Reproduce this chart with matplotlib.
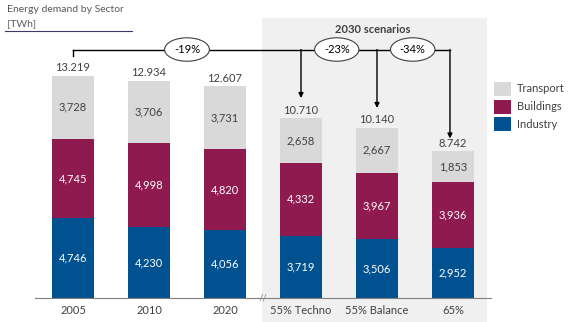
import numpy as np
import matplotlib.pyplot as plt
from matplotlib.patches import Rectangle
from matplotlib.lines import Line2D

plt.rcParams['font.family'] = ['Lato', 'DejaVu Sans']

# data (TWh)
categories = ['2005', '2010', '2020', '55% Techno', '55% Balance', '65%']
industry = [4746, 4230, 4056, 3719, 3506, 2952]
buildings = [4745, 4998, 4820, 4332, 3967, 3936]
transport = [3728, 3706, 3731, 2658, 2667, 1853]
total_labels = ['13.219', '12.934', '12.607', '10.710', '10.140', '8.742']
changes = ['-19%', '-23%', '-34%']

c_ind = '#00518f'
c_bld = '#8f1a50'
c_tra = '#d9d9d9'
txt = '#404040'

W, H = 570, 322
fig = plt.figure(figsize=(W / 100, H / 100), dpi=100)

# grey background for 2030 scenarios
fig.add_artist(Rectangle((262 / W, 0), (487 - 262) / W, 1 - 18 / H,
                         transform=fig.transFigure, fc='#f0f0f0', ec='none', zorder=-1))

ax = fig.add_axes([35 / W, 24 / H, 456 / W, 298 / H])
ax.patch.set_visible(False)
ax.set_xlim(-0.5, 5.5)
ax.set_ylim(0, 298 / 0.01679)

x = np.arange(len(categories))
ind = np.array(industry)
bld = np.array(buildings)
tra = np.array(transport)
tot = ind + bld + tra
bw = 0.565

ax.bar(x, ind, bw, color=c_ind)
ax.bar(x, bld, bw, bottom=ind, color=c_bld)
ax.bar(x, tra, bw, bottom=ind + bld, color=c_tra)

for i in range(len(x)):
    ax.text(x[i], ind[i] / 2, f'{ind[i]:,}', ha='center', va='center', color='white', fontsize=8)
    ax.text(x[i], ind[i] + bld[i] / 2, f'{bld[i]:,}', ha='center', va='center', color='white', fontsize=8)
    ax.text(x[i], ind[i] + bld[i] + tra[i] / 2, f'{tra[i]:,}', ha='center', va='center', color=txt, fontsize=8)
    ax.text(x[i], tot[i] + 480, total_labels[i], ha='center', va='center', color=txt, fontsize=8)

for s in ['top', 'right', 'left']:
    ax.spines[s].set_visible(False)
ax.spines['bottom'].set_color('#808080')
ax.set_yticks([])
ax.set_xticks(x, categories)
ax.tick_params(axis='x', length=0, pad=5, labelsize=8, labelcolor=txt)

# axis break
ax.text(2.5, 0, '//', ha='center', va='center', fontsize=7, color='#808080')

# bracket with reductions
y_br = 14800
ax.plot([0, 0], [tot[0] + 1200, y_br], color='k', lw=1)
ax.plot([0, 4.96], [y_br, y_br], color='k', lw=1)
for xi, tip in [(3, tot[3] + 1200), (4, tot[4] + 1180), (4.96, tot[5] + 760)]:
    ax.annotate('', xy=(xi, tip), xytext=(xi, y_br),
                arrowprops=dict(arrowstyle='-|>', color='k', lw=1, mutation_scale=7,
                                shrinkA=0, shrinkB=0))
for xi, lbl in zip([1.5, 3.47, 4.47], changes):
    ax.text(xi, y_br, lbl, ha='center', va='center', fontsize=8, color='k',
            bbox=dict(boxstyle='ellipse,pad=0.25', fc='white', ec='#404040', lw=0.8))

ax.text(3.95, 16021, '2030 scenarios', ha='center', va='center', fontsize=8,
        fontweight='bold', color=txt)

# title
fig.text(7 / W, 1 - 10 / H, 'Energy demand by Sector', fontsize=7.5, color='#595959', va='center')
fig.text(7 / W, 1 - 24 / H, '[TWh]', fontsize=7.5, color='#595959', va='center')
fig.add_artist(Line2D([5 / W, 132 / W], [1 - 31 / H, 1 - 31 / H], color='#3a3a6a', lw=0.8))

# legend
legend_labels = ['Transport', 'Buildings', 'Industry']
legend_colors = [c_tra, c_bld, c_ind]
for k, (lbl, col) in enumerate(zip(legend_labels, legend_colors)):
    yc = 89 + 17.5 * k
    fig.add_artist(Rectangle((494 / W, 1 - (yc + 7) / H), 17 / W, 14 / H,
                             transform=fig.transFigure, fc=col, ec='none'))
    fig.text(517 / W, 1 - yc / H, lbl, fontsize=8, color=txt, va='center')

fig.savefig('out.png', dpi=100)
